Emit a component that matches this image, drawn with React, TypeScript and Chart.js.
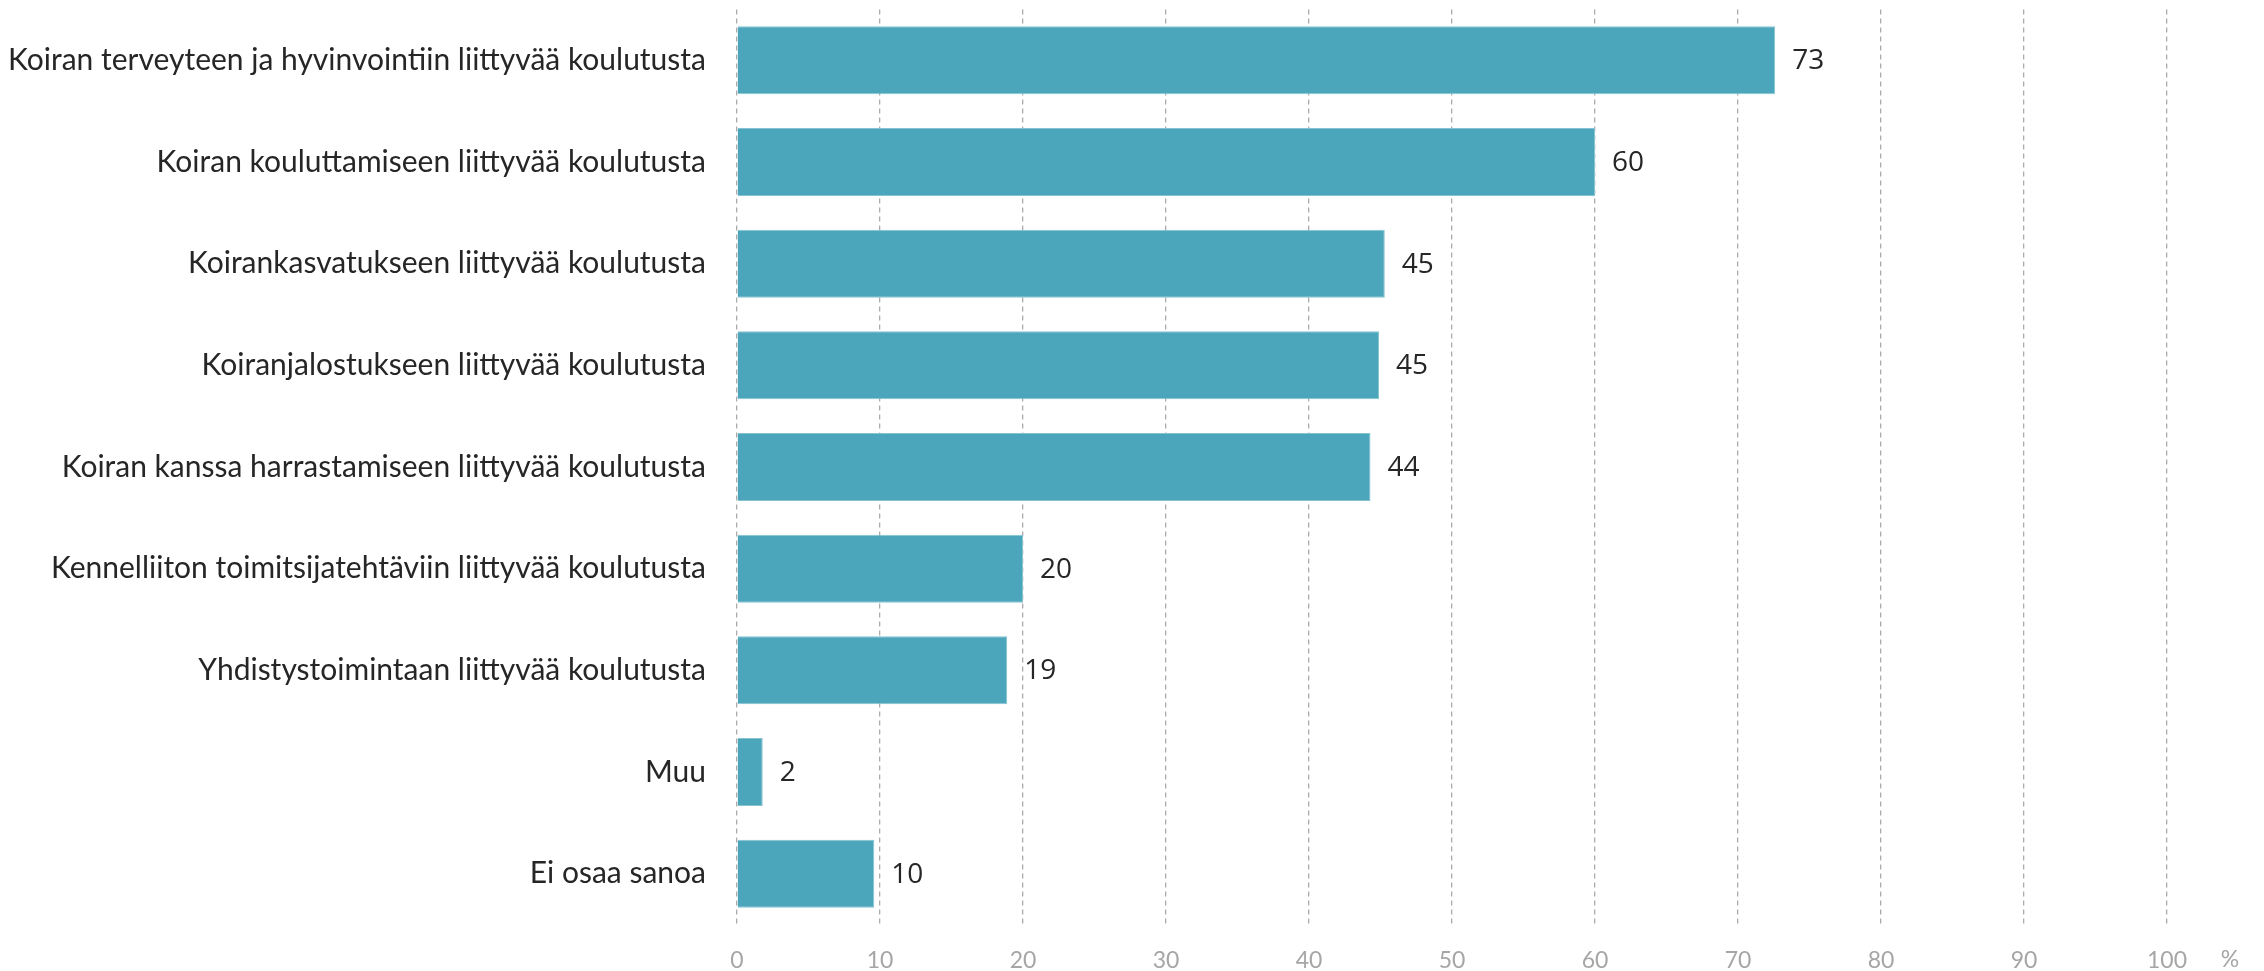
import React, { useEffect, useRef } from "react";
import { Chart, registerables } from "chart.js";

Chart.register(...registerables);

const categories = [
  "Koiran terveyteen ja hyvinvointiin liittyvää koulutusta",
  "Koiran kouluttamiseen liittyvää koulutusta",
  "Koirankasvatukseen liittyvää koulutusta",
  "Koiranjalostukseen liittyvää koulutusta",
  "Koiran kanssa harrastamiseen liittyvää koulutusta",
  "Kennelliiton toimitsijatehtäviin liittyvää koulutusta",
  "Yhdistystoimintaan liittyvää koulutusta",
  "Muu",
  "Ei osaa sanoa",
];

const values = [72.6, 60.0, 45.3, 44.9, 44.3, 20.0, 18.9, 1.8, 9.6];

const xTicks = [0, 10, 20, 30, 40, 50, 60, 70, 80, 90, 100];
const unitLabel = "%";

const BAR_COLOR = "#4BA6BC";
const LABEL_FONT = "Lato";

const overlayPlugin = {
  id: "overlayLabels",
  afterDatasetsDraw(chart: any) {
    const ctx = chart.ctx;
    const meta = chart.getDatasetMeta(0);
    ctx.save();
    ctx.font = "400 28px 'Open Sans'";
    ctx.fillStyle = "#262626";
    ctx.textAlign = "left";
    ctx.textBaseline = "middle";
    meta.data.forEach((el: any, i: number) => {
      const v = values[i];
      ctx.fillText(String(Math.round(v)), el.x + 17, el.y + 1);
    });
    const xs = chart.scales.x;
    const last = xs.getPixelForValue(xTicks[xTicks.length - 1]);
    ctx.font = `400 23px ${LABEL_FONT}`;
    ctx.fillStyle = "#A6A6A6";
    ctx.textAlign = "center";
    ctx.fillText(unitLabel, last + 63, 960);
    ctx.restore();
  },
};

export default function App() {
  const ref = useRef<HTMLCanvasElement | null>(null);

  useEffect(() => {
    document.body.style.margin = "0";
    if (!ref.current) return;
    const chart = new Chart(ref.current, {
      type: "bar",
      data: {
        labels: categories,
        datasets: [
          {
            data: values,
            backgroundColor: BAR_COLOR,
            borderColor: "#86C3D2",
            borderWidth: 1,
            barPercentage: 0.669,
            categoryPercentage: 1,
          },
        ],
      },
      options: {
        indexAxis: "y",
        animation: false,
        responsive: true,
        maintainAspectRatio: false,
        layout: { padding: { left: 0, right: 97, top: 9.5, bottom: 0 } },
        plugins: {
          legend: { display: false },
          tooltip: { enabled: false },
        },
        scales: {
          x: {
            type: "linear",
            min: 0,
            max: 100,
            afterBuildTicks(scale: any) {
              scale.ticks = xTicks.map((v) => ({ value: v }));
            },
            afterFit(scale: any) {
              scale.height = 46.5;
            },
            grid: {
              display: true,
              color: "#ABABAB",
              lineWidth: 1.3,
              drawTicks: false,
            },
            border: { display: false, dash: [5, 4] },
            ticks: {
              color: "#A6A6A6",
              font: { family: LABEL_FONT, size: 23, weight: "400" },
              padding: 22,
              maxRotation: 0,
              autoSkip: false,
            },
          },
          y: {
            type: "category",
            afterFit(scale: any) {
              scale.width = 737;
              scale.paddingTop = 0;
              scale.paddingBottom = 0;
            },
            grid: { display: false, drawTicks: false },
            border: { display: false },
            ticks: {
              color: "#262626",
              font: { family: LABEL_FONT, size: 30, weight: "400" },
              padding: 31,
              autoSkip: false,
            },
          },
        },
      },
      plugins: [overlayPlugin],
    });
    return () => chart.destroy();
  }, []);

  return (
    <div style={{ position: "relative", width: "2264px", height: "971px" }}>
      <canvas ref={ref} />
    </div>
  );
}
